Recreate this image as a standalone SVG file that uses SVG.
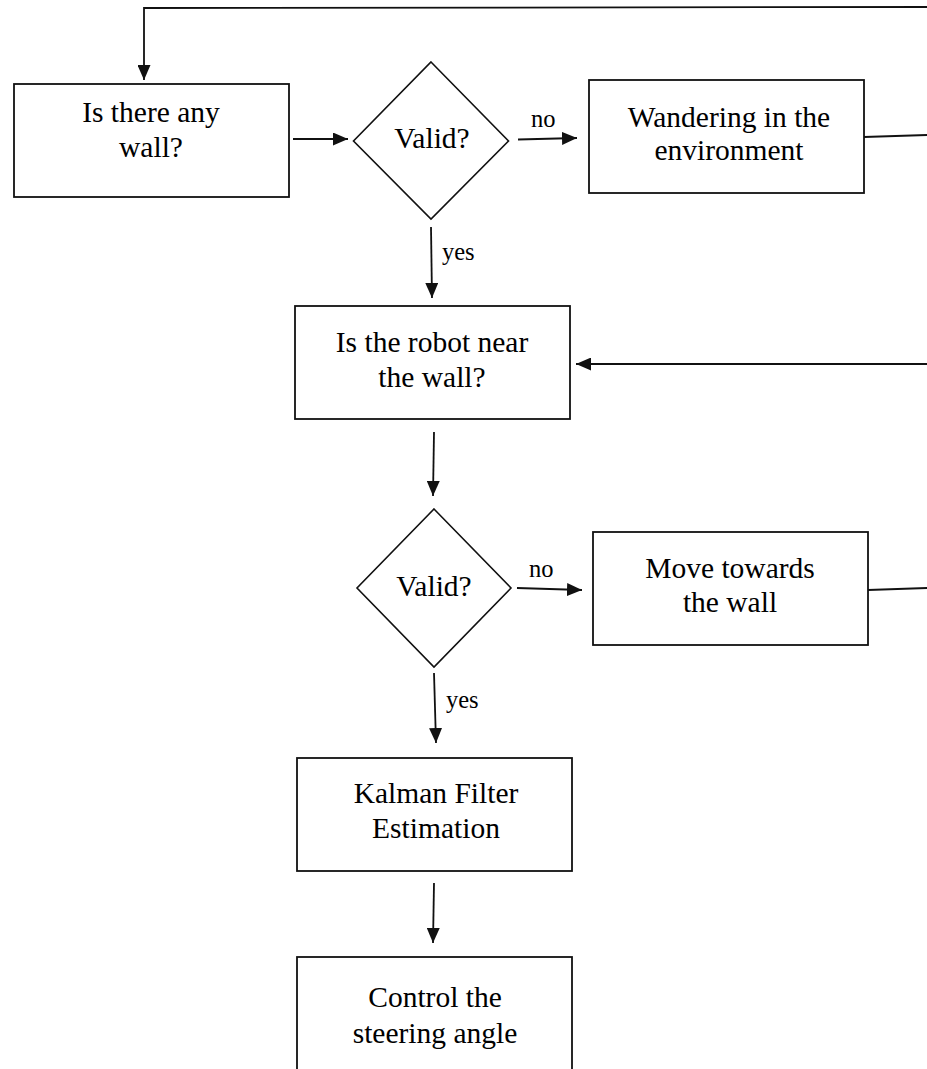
<svg xmlns="http://www.w3.org/2000/svg" width="927" height="1069" viewBox="0 0 927 1069">
  <style>
    .box { fill: #ffffff; stroke: #111111; stroke-width: 1.8; }
    .dia { fill: #ffffff; stroke: #111111; stroke-width: 1.6; }
    .edge { fill: none; stroke: #111111; stroke-width: 1.8; }
    .txt { font-family: "Liberation Serif", "Times New Roman", serif; font-size: 29.5px; fill: #000000; text-anchor: middle; }
    .lbl { font-family: "Liberation Serif", "Times New Roman", serif; font-size: 24.5px; fill: #000000; }
  </style>
  <defs>
    <marker id="arrow" viewBox="0 0 15 13" refX="15" refY="6.5" markerWidth="15" markerHeight="13" markerUnits="userSpaceOnUse" orient="auto">
      <path d="M0,0 L15,6.5 L0,13 Z" fill="#111111"/>
    </marker>
  </defs>
  <rect width="927" height="1069" fill="#ffffff"/>

  <!-- connectors and their yes/no labels -->
  <g id="connectors">
    <path class="edge" d="M927,7 L144,8 L144,80" marker-end="url(#arrow)"/>
    <path class="edge" d="M293,139 L348,139" marker-end="url(#arrow)"/>
    <path class="edge" d="M518,139.5 L577,138" marker-end="url(#arrow)"/>
    <path class="edge" d="M431,227 L432,298" marker-end="url(#arrow)"/>
    <path class="edge" d="M864,137 L927,135"/>
    <path class="edge" d="M927,364 L576,364" marker-end="url(#arrow)"/>
    <path class="edge" d="M434,432 L433,496" marker-end="url(#arrow)"/>
    <path class="edge" d="M517,588 L582,590" marker-end="url(#arrow)"/>
    <path class="edge" d="M868,590 L927,588"/>
    <path class="edge" d="M434,673 L436,743" marker-end="url(#arrow)"/>
    <path class="edge" d="M434,883 L433,943" marker-end="url(#arrow)"/>
    <text class="lbl" x="531" y="127">no</text>
    <text class="lbl" x="442" y="260">yes</text>
    <text class="lbl" x="529" y="577">no</text>
    <text class="lbl" x="446" y="708">yes</text>
  </g>

  <g id="node-any-wall">
    <rect class="box" x="14" y="84" width="275" height="113"/>
    <text class="txt" x="151" y="122">Is there any</text>
    <text class="txt" x="151" y="157">wall?</text>
  </g>

  <g id="node-valid-1">
    <polygon class="dia" points="431,62 508.5,141 431,219 353.5,141"/>
    <text class="txt" x="432" y="148">Valid?</text>
  </g>

  <g id="node-wandering">
    <rect class="box" x="589" y="80" width="275" height="113"/>
    <text class="txt" x="729" y="127">Wandering in the</text>
    <text class="txt" x="729" y="160">environment</text>
  </g>

  <g id="node-near-wall">
    <rect class="box" x="295" y="306" width="275" height="113"/>
    <text class="txt" x="432" y="352">Is the robot near</text>
    <text class="txt" x="432" y="387">the wall?</text>
  </g>

  <g id="node-valid-2">
    <polygon class="dia" points="434,509 511,588 434,667 357,588"/>
    <text class="txt" x="434" y="596">Valid?</text>
  </g>

  <g id="node-move">
    <rect class="box" x="593" y="532" width="275" height="113"/>
    <text class="txt" x="730" y="578">Move towards</text>
    <text class="txt" x="730" y="612">the wall</text>
  </g>

  <g id="node-kalman">
    <rect class="box" x="297" y="758" width="275" height="113"/>
    <text class="txt" x="436" y="803">Kalman Filter</text>
    <text class="txt" x="436" y="838">Estimation</text>
  </g>

  <g id="node-steering">
    <rect class="box" x="297" y="957" width="275" height="150"/>
    <text class="txt" x="435" y="1007">Control the</text>
    <text class="txt" x="435" y="1043">steering angle</text>
  </g>
</svg>
